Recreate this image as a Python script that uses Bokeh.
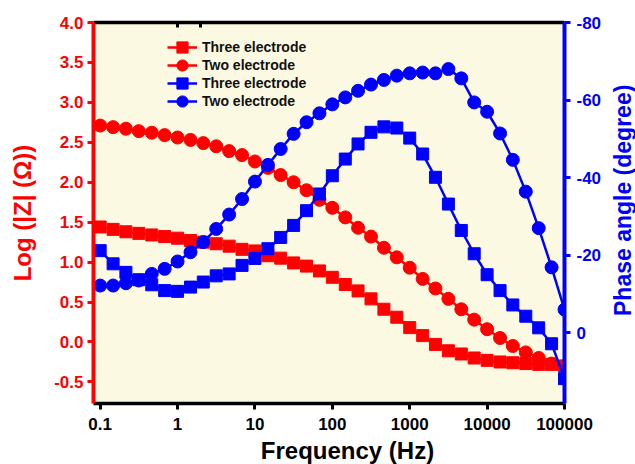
import math
from bokeh.plotting import figure
from bokeh.layouts import row, column
from bokeh.models import (Range1d, LinearAxis, LogAxis, FixedTicker, CustomJSTickFormatter,
                          NumeralTickFormatter, Legend, LegendItem, ColumnDataSource)
from bokeh.core.properties import value
from bokeh.embed import file_html
from bokeh.resources import INLINE

# ---------------- data ----------------
freq = [0.1, 0.147, 0.215, 0.316, 0.464, 0.681,
        1.0, 1.47, 2.15, 3.16, 4.64, 6.81,
        10, 14.7, 21.5, 31.6, 46.4, 68.1,
        100, 147, 215, 316, 464, 681,
        1000, 1470, 2150, 3160, 4640, 6810,
        10000, 14700, 21500, 31600, 46400, 68100,
        100000]

logz_three = [1.44, 1.41, 1.38, 1.36, 1.34, 1.32, 1.30, 1.27, 1.25, 1.23, 1.20, 1.16,
              1.14, 1.08, 1.05, 0.99, 0.95, 0.89, 0.81, 0.72, 0.64, 0.54, 0.41, 0.31,
              0.18, 0.08, -0.03, -0.11, -0.15, -0.20, -0.23, -0.25, -0.26, -0.27, -0.28,
              -0.28, -0.30]
logz_two = [2.71, 2.69, 2.67, 2.64, 2.62, 2.59, 2.56, 2.53, 2.49, 2.45, 2.39, 2.34,
            2.26, 2.18, 2.09, 2.00, 1.90, 1.78, 1.68, 1.56, 1.43, 1.32, 1.18, 1.06,
            0.93, 0.79, 0.67, 0.54, 0.41, 0.28, 0.16, 0.05, -0.05, -0.13, -0.20,
            -0.27, -0.30]
phase_three = [-21.2, -17.8, -15.6, -13.7, -12.4, -10.9, -10.7, -11.8, -13.1, -14.7, -15.2, -17.4,
               -19.2, -21.7, -24.6, -27.7, -31.5, -35.8, -40.5, -44.8, -48.7, -51.7, -53.1, -52.8,
               -50.2, -46.1, -40.1, -33.2, -26.4, -20.4, -15.0, -10.9, -7.2, -4.3, -1.3,
               2.8, 11.8]
phase_two = [-12.2, -12.2, -12.8, -13.5, -15.2, -16.5, -18.4, -20.8, -23.4, -26.8, -30.5, -34.5,
             -39.0, -43.3, -47.4, -51.3, -54.3, -56.6, -58.9, -60.7, -62.4, -64.0, -65.2, -66.3,
             -66.9, -67.1, -66.9, -68.0, -65.6, -59.4, -57.0, -51.4, -44.6, -36.4, -27.0,
             -16.9, -6.0]

x_ticks = [0.1, 1, 10, 100, 1000, 10000, 100000]
logz_ticks = [-0.5, 0.0, 0.5, 1.0, 1.5, 2.0, 2.5, 3.0, 3.5, 4.0]
phase_ticks = [-80, -60, -40, -20, 0]
series_labels = ["Three electrode", "Two electrode", "Three electrode", "Two electrode"]
x_title = "Frequency (Hz)"
y_title = "Log (|Z| (Ω))"
y2_title = "Phase angle (degree)"

FONT = "Liberation Sans"
RED = "#FF0000"
BLUE = "#0000FF"
BG = "#FCF9E2"

src = ColumnDataSource(dict(freq=freq, logz_three=logz_three, logz_two=logz_two,
                            phase_three=phase_three, phase_two=phase_two))

# ---------------- main figure ----------------
p = figure(width=605, height=436, x_axis_type="log", title=None,
           x_range=Range1d(0.082, 1e5), y_range=Range1d(-0.77, 4.0),
           output_backend="svg", toolbar_location=None,
           min_border_left=93, min_border_right=41, min_border_top=22, min_border_bottom=33)
p.extra_y_ranges = {"phase": Range1d(start=18.2, end=-80)}
p.background_fill_color = BG
p.border_fill_color = "white"
p.outline_line_color = None
p.grid.visible = False

# left axis
ya = p.yaxis[0]
ya.ticker = FixedTicker(ticks=logz_ticks, minor_ticks=[])
ya.formatter = NumeralTickFormatter(format="0.0")
ya.axis_label = y_title
ya.axis_line_color = RED
ya.axis_line_width = 4
ya.major_tick_line_color = RED
ya.major_tick_line_width = 3
ya.major_tick_out = 6
ya.major_tick_in = 0
ya.minor_tick_line_color = None
ya.major_label_text_color = RED
ya.major_label_text_font = FONT
ya.major_label_text_font_size = "17px"
ya.major_label_text_font_style = "bold"
ya.major_label_standoff = 4
ya.axis_label_text_color = RED
ya.axis_label_text_font = FONT
ya.axis_label_text_font_size = "24px"
ya.axis_label_text_font_style = "bold"
ya.axis_label_standoff = 15

# bottom axis (its title is drawn in the strip below)
xa = p.xaxis[0]
xa.ticker = FixedTicker(ticks=x_ticks, minor_ticks=[])
xa.formatter = CustomJSTickFormatter(code="return tick < 1 ? tick.toFixed(1) : tick.toFixed(0);")
xa.axis_line_color = "black"
xa.axis_line_width = 3.5
xa.major_tick_line_color = "black"
xa.major_tick_line_width = 3
xa.major_tick_out = 6
xa.major_tick_in = 0
xa.minor_tick_line_color = None
xa.major_label_text_color = "black"
xa.major_label_text_font = FONT
xa.major_label_text_font_size = "17px"
xa.major_label_text_font_style = "bold"
xa.major_label_standoff = 8

# top axis (frame line with two small inward ticks)
ta = LogAxis(ticker=FixedTicker(ticks=[1, 2], minor_ticks=[]),
             formatter=CustomJSTickFormatter(code="return '';"),
             axis_line_color="black", axis_line_width=3.5,
             major_tick_line_color="black", major_tick_line_width=3,
             major_tick_in=5, major_tick_out=0, minor_tick_line_color=None,
             major_label_text_font_size="0px", major_label_standoff=0)
p.add_layout(ta, "above")

# right axis
ra = LinearAxis(y_range_name="phase", ticker=FixedTicker(ticks=phase_ticks, minor_ticks=[]),
                formatter=CustomJSTickFormatter(code="return tick.toFixed(0);"),
                axis_line_color=BLUE, axis_line_width=4,
                major_tick_line_color=BLUE, major_tick_line_width=3,
                major_tick_out=6, major_tick_in=0, minor_tick_line_color=None,
                major_label_text_color=BLUE, major_label_text_font=FONT,
                major_label_text_font_size="17px", major_label_text_font_style="bold",
                major_label_standoff=6)
p.add_layout(ra, "right")

# series
r1l = p.line("freq", "logz_three", source=src, line_color=RED, line_width=2.5)
r1s = p.scatter("freq", "logz_three", source=src, marker="square", size=12,
                fill_color=RED, line_color=RED)
r2l = p.line("freq", "logz_two", source=src, line_color=RED, line_width=2.5)
r2s = p.scatter("freq", "logz_two", source=src, marker="circle", size=13,
                fill_color=RED, line_color=RED)
r3l = p.line("freq", "phase_three", source=src, y_range_name="phase", line_color=BLUE, line_width=2.5)
r3s = p.scatter("freq", "phase_three", source=src, y_range_name="phase", marker="square", size=12,
                fill_color=BLUE, line_color=BLUE)
r4l = p.line("freq", "phase_two", source=src, y_range_name="phase", line_color=BLUE, line_width=2.5)
r4s = p.scatter("freq", "phase_two", source=src, y_range_name="phase", marker="circle", size=13,
                fill_color=BLUE, line_color=BLUE)

# legend: one single-row legend per entry, so rows sit close while markers stay large
row_pairs = [[r1l, r1s], [r2l, r2s], [r3l, r3s], [r4l, r4s]]
for i, (lab, rends) in enumerate(zip(series_labels, row_pairs)):
    row_center = 47.3 + 17.8 * i          # px from top of canvas
    vy = 403 - row_center - 14            # bottom of legend box above frame bottom
    lg = Legend(items=[LegendItem(label=value(lab), renderers=rends)],
                location=(74, vy), glyph_width=30, glyph_height=28, label_height=14,
                padding=0, margin=0, spacing=0, label_standoff=5,
                label_text_font=FONT, label_text_font_size="14px",
                label_text_font_style="bold", label_text_color="#111111",
                border_line_color=None, background_fill_alpha=0)
    p.add_layout(lg)

# ---------------- right strip: right-axis title ----------------
p2 = figure(width=30, height=436, title=None, x_range=Range1d(0, 30), y_range=Range1d(0, 436),
            x_axis_location=None, y_axis_location=None, min_border=0,
            toolbar_location=None, output_backend="svg")
p2.outline_line_color = None
p2.grid.visible = False
p2.background_fill_color = "white"
p2.border_fill_color = "white"
p2.text(x=[17], y=[232.5], text=[y2_title], angle=math.pi / 2,
        text_align="center", text_baseline="middle", text_color=BLUE,
        text_font=value(FONT), text_font_size=value("23px"), text_font_style="bold")

# ---------------- bottom strip: x-axis title ----------------
p3 = figure(width=635, height=28, title=None, x_range=Range1d(0, 635), y_range=Range1d(0, 28),
            x_axis_location=None, y_axis_location=None, min_border=0,
            toolbar_location=None, output_backend="svg")
p3.outline_line_color = None
p3.grid.visible = False
p3.background_fill_color = "white"
p3.border_fill_color = "white"
p3.text(x=[347], y=[14], text=[x_title], text_align="center", text_baseline="middle",
        text_color="black", text_font=value(FONT), text_font_size=value("24px"),
        text_font_style="bold")

layout = column(row(p, p2), p3)
open("out.html", "w").write(file_html(layout, INLINE))
